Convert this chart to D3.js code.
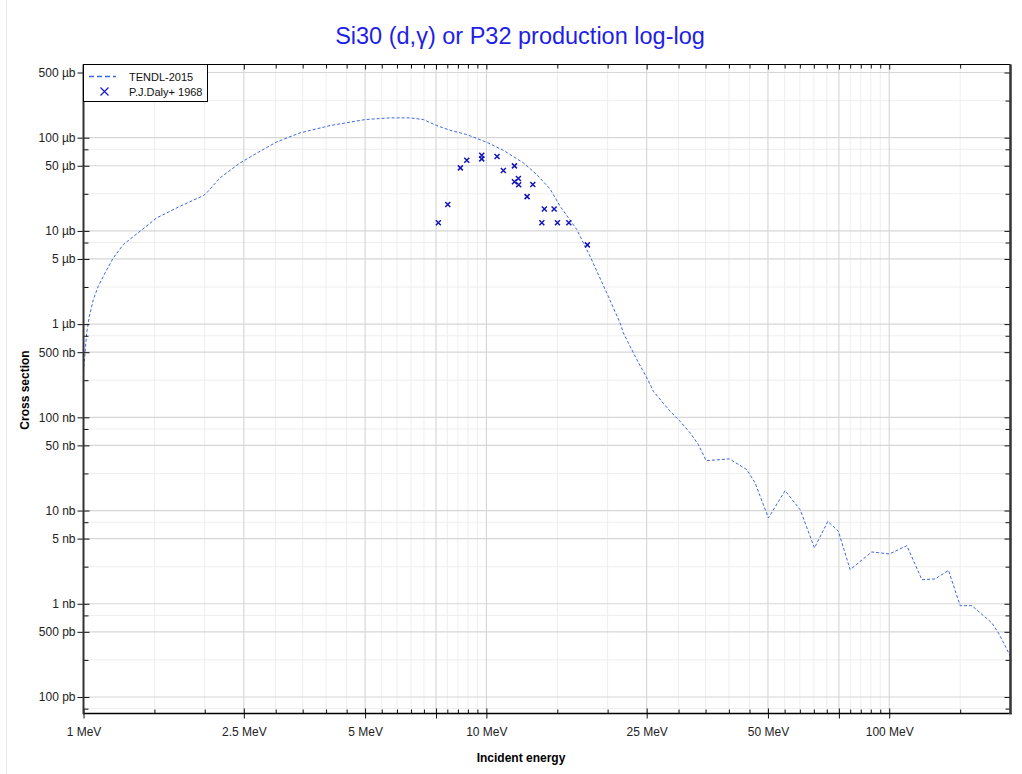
<!DOCTYPE html>
<html>
<head>
<meta charset="utf-8">
<script src="https://cdn.jsdelivr.net/npm/d3@7"></script>
<style>
  body { margin: 0; background: #fff; }
  svg { display: block; font-family: "Liberation Sans", Arial, sans-serif; }
</style>
</head>
<body>
<svg id="chart" width="1022" height="774"></svg>
<script>
// ---- Data (energy in MeV, cross section in µb) ----
const tendlEnergy = [1.0, 1.0185, 1.034, 1.0576, 1.088, 1.1308, 1.1855, 1.2552, 1.381, 1.519, 1.736, 1.984, 2.022, 2.182, 2.447, 2.743, 3.018, 3.448, 4.093, 5.0, 5.767, 6.465, 6.977, 7.533, 8.126, 8.94, 10.02, 11.02, 12.36, 13.34, 14.39, 15.24, 16.77, 18.09, 19.9, 21.47, 21.88, 23.63, 25.16, 25.98, 28.58, 30.27, 32.05, 33.6, 35.12, 40.12, 44.31, 46.46, 50.13, 55.15, 60.09, 65.23, 70.41, 74.8, 79.98, 90.5, 100.1, 110.6, 120.5, 130.0, 140.3, 150.0, 160.4, 179.8, 186.7, 200.0];
const tendlXS = [0.309, 0.804, 1.212, 1.832, 2.544, 3.543, 5.132, 7.129, 9.90, 13.79, 18.36, 23.92, 25.57, 37.05, 53.6, 71.5, 90.2, 112.6, 134.8, 156.4, 163.1, 163.1, 156.4, 134.8, 120.1, 108.0, 89.3, 73.2, 53.6, 40.2, 28.2, 18.4, 10.32, 5.34, 2.16, 1.03, 0.804, 0.416, 0.2538, 0.190, 0.116, 0.0906, 0.068, 0.0509, 0.0343, 0.0358, 0.02748, 0.01978, 0.00833, 0.01635, 0.01023, 0.003969, 0.007656, 0.005981, 0.002322, 0.003595, 0.003421, 0.004201, 0.001814, 0.001845, 0.002282, 0.000954, 0.000954, 0.000622, 0.000486, 0.000273];
const dalyEnergy = [7.60, 8.02, 8.62, 8.94, 9.74, 9.74, 10.63, 11.02, 11.74, 11.74, 12.01, 12.03, 13.04, 12.62, 13.93, 14.73, 13.73, 15.01, 16.02, 17.81];
const dalyXS = [12.2, 19.2, 47.4, 57.2, 64.7, 59.2, 62.7, 44.4, 49.8, 33.6, 36.4, 31.2, 31.4, 23.3, 17.2, 17.2, 12.2, 12.2, 12.2, 7.08];

const xTickValues = [1, 2.5, 5, 10, 25, 50, 100];
const xTickLabels = ["1 MeV", "2.5 MeV", "5 MeV", "10 MeV", "25 MeV", "50 MeV", "100 MeV"];
const xMajorUnlabeled = [7.5, 75];
const xMinor = [1.5, 2, 3, 3.5, 4, 4.5, 5.5, 6, 6.5, 7, 8, 8.5, 9, 9.5, 15, 20, 30, 35, 40, 45, 55, 60, 65, 70, 80, 85, 90, 95, 150, 200];
const yTickValues = [500, 100, 50, 10, 5, 1, 0.5, 0.1, 0.05, 0.01, 0.005, 0.001, 0.0005, 0.0001];
const yTickLabels = ["500 µb", "100 µb", "50 µb", "10 µb", "5 µb", "1 µb", "500 nb", "100 nb", "50 nb", "10 nb", "5 nb", "1 nb", "500 pb", "100 pb"];
const yMinor = [250, 75, 25, 7.5, 2.5, 0.75, 0.25, 0.075, 0.025, 0.0075, 0.0025, 0.00075, 0.00025, 0.000075];

const titleText = "Si30 (d,γ) or P32 production log-log";
const seriesNames = ["TENDL-2015", "P.J.Daly+ 1968"];

// ---- Layout ----
const L = 83.5, R = 1010.5, T = 64.5, B = 713.5;
const svg = d3.select("#chart");

const x = d3.scaleLog().domain([1, 200]).range([L, R]);
const y = d3.scaleLog().domain([6.65e-5, 609.5]).range([B, T]);

// outer faint frame line
svg.append("line").attr("x1", 6.5).attr("x2", 6.5).attr("y1", 0).attr("y2", 774)
  .attr("stroke", "#e6e6e6").attr("stroke-width", 1);

// ---- Grid ----
const grid = svg.append("g");
const xMajorGrid = xTickValues.concat(xMajorUnlabeled);
grid.selectAll(".vminor").data(xMinor.filter(v => x(v) < R - 1)).enter().append("line")
  .attr("x1", d => x(d)).attr("x2", d => x(d)).attr("y1", T).attr("y2", B)
  .attr("stroke", "#eeeeee").attr("stroke-width", 1);
grid.selectAll(".hminor").data(yMinor).enter().append("line")
  .attr("x1", L).attr("x2", R).attr("y1", d => y(d)).attr("y2", d => y(d))
  .attr("stroke", "#eeeeee").attr("stroke-width", 1);
grid.selectAll(".vmajor").data(xMajorGrid).enter().append("line")
  .attr("x1", d => x(d)).attr("x2", d => x(d)).attr("y1", T).attr("y2", B)
  .attr("stroke", "#d0d0d0").attr("stroke-width", 1);
grid.selectAll(".hmajor").data(yTickValues).enter().append("line")
  .attr("x1", L).attr("x2", R).attr("y1", d => y(d)).attr("y2", d => y(d))
  .attr("stroke", "#d6d6d6").attr("stroke-width", 1.2);

// ---- Data ----
svg.append("clipPath").attr("id", "clip").append("rect")
  .attr("x", L).attr("y", T).attr("width", R - L).attr("height", B - T);

const tendl = tendlEnergy.map((e, i) => [e, tendlXS[i]]);
const line = d3.line().x(d => x(d[0])).y(d => y(d[1]));
svg.append("path").datum(tendl).attr("clip-path", "url(#clip)")
  .attr("d", line).attr("fill", "none")
  .attr("stroke", "#3f67e0").attr("stroke-width", 1).attr("stroke-dasharray", "3,2");

const daly = dalyEnergy.map((e, i) => [e, dalyXS[i]]);
const s = 2.5;
svg.append("g").selectAll("path").data(daly).enter().append("path")
  .attr("d", d => { const px = x(d[0]), py = y(d[1]);
    return `M${px - s},${py - s}L${px + s},${py + s}M${px - s},${py + s}L${px + s},${py - s}`; })
  .attr("stroke", "#1414b8").attr("stroke-width", 1.5).attr("fill", "none");

// ---- Axes ----
const fmtX = d => xTickLabels[xTickValues.indexOf(d)];
const fmtY = d => yTickLabels[yTickValues.indexOf(d)];

function styleAxis(g) {
  g.select(".domain").remove();
  g.selectAll("line").attr("stroke", "#111");
  g.selectAll("text").attr("font-size", 12).attr("fill", "#222")
    .attr("font-family", '"Liberation Sans", Arial, sans-serif');
}

// bottom: majors crossing, minors inside
svg.append("g").attr("transform", `translate(0,${B})`)
  .call(d3.axisBottom(x).tickValues(xTickValues).tickFormat(fmtX).tickSize(5).tickPadding(9))
  .call(styleAxis);
svg.append("g").attr("transform", `translate(0,${B})`)
  .call(d3.axisBottom(x).tickValues(xMajorGrid).tickFormat("").tickSizeInner(-5).tickSizeOuter(0))
  .call(styleAxis);
svg.append("g").attr("transform", `translate(0,${B})`)
  .call(d3.axisBottom(x).tickValues(xMajorUnlabeled).tickFormat("").tickSizeInner(5).tickSizeOuter(0))
  .call(styleAxis);
svg.append("g").attr("transform", `translate(0,${B})`)
  .call(d3.axisBottom(x).tickValues(xMinor.filter(v => x(v) < R - 1)).tickFormat("").tickSizeInner(-4).tickSizeOuter(0))
  .call(styleAxis);

// top mirror ticks (inside)
svg.append("g").attr("transform", `translate(0,${T})`)
  .call(d3.axisTop(x).tickValues(xMajorGrid).tickFormat("").tickSizeInner(-5).tickSizeOuter(0))
  .call(styleAxis);
svg.append("g").attr("transform", `translate(0,${T})`)
  .call(d3.axisTop(x).tickValues(xMinor.filter(v => x(v) < R - 1)).tickFormat("").tickSizeInner(-4).tickSizeOuter(0))
  .call(styleAxis);

// left: majors crossing, minors inside
svg.append("g").attr("transform", `translate(${L},0)`)
  .call(d3.axisLeft(y).tickValues(yTickValues).tickFormat(fmtY).tickSize(6).tickPadding(2))
  .call(styleAxis);
svg.append("g").attr("transform", `translate(${L},0)`)
  .call(d3.axisLeft(y).tickValues(yTickValues).tickFormat("").tickSizeInner(-6).tickSizeOuter(0))
  .call(styleAxis);
svg.append("g").attr("transform", `translate(${L},0)`)
  .call(d3.axisLeft(y).tickValues(yMinor).tickFormat("").tickSizeInner(-5).tickSizeOuter(0))
  .call(styleAxis);

// right mirror ticks (inside)
svg.append("g").attr("transform", `translate(${R},0)`)
  .call(d3.axisRight(y).tickValues(yTickValues).tickFormat("").tickSizeInner(-6).tickSizeOuter(0))
  .call(styleAxis);
svg.append("g").attr("transform", `translate(${R},0)`)
  .call(d3.axisRight(y).tickValues(yMinor).tickFormat("").tickSizeInner(-5).tickSizeOuter(0))
  .call(styleAxis);

// frame lines
svg.append("line").attr("x1", L).attr("x2", R).attr("y1", T).attr("y2", T).attr("stroke", "#000").attr("stroke-width", 1);
svg.append("line").attr("x1", L - 0.5).attr("x2", R + 1).attr("y1", B).attr("y2", B).attr("stroke", "#000").attr("stroke-width", 1.5);
svg.append("line").attr("x1", L).attr("x2", L).attr("y1", T).attr("y2", B + 0.75).attr("stroke", "#333").attr("stroke-width", 2);
svg.append("line").attr("x1", R).attr("x2", R).attr("y1", T).attr("y2", B + 0.75).attr("stroke", "#333").attr("stroke-width", 2.5);

// ---- Titles ----
svg.append("text").attr("x", 520).attr("y", 44).attr("text-anchor", "middle")
  .attr("font-size", 23.5).attr("fill", "#1e1ee6").text(titleText);
svg.append("text").attr("x", 521).attr("y", 762).attr("text-anchor", "middle")
  .attr("font-size", 12).attr("font-weight", "bold").attr("fill", "#000").text("Incident energy");
svg.append("text").attr("transform", "translate(29,390) rotate(-90)").attr("text-anchor", "middle")
  .attr("font-size", 12).attr("font-weight", "bold").attr("fill", "#000").text("Cross section");

// ---- Legend ----
const lg = svg.append("g");
lg.append("rect").attr("x", L).attr("y", T).attr("width", 124).attr("height", 37)
  .attr("fill", "#fff").attr("stroke", "#000").attr("stroke-width", 1);
lg.append("line").attr("x1", 89).attr("x2", 116).attr("y1", 76.5).attr("y2", 76.5)
  .attr("stroke", "#3f67e0").attr("stroke-width", 1.5).attr("stroke-dasharray", "5,3");
lg.append("path").attr("d", "M100.5,87.5L108.5,95.5M100.5,95.5L108.5,87.5")
  .attr("stroke", "#1414c8").attr("stroke-width", 1.1);
lg.append("text").attr("x", 129).attr("y", 80.5).attr("font-size", 11).attr("fill", "#111").text(seriesNames[0]);
lg.append("text").attr("x", 129).attr("y", 95.5).attr("font-size", 11).attr("fill", "#111").text(seriesNames[1]);
</script>
</body>
</html>
